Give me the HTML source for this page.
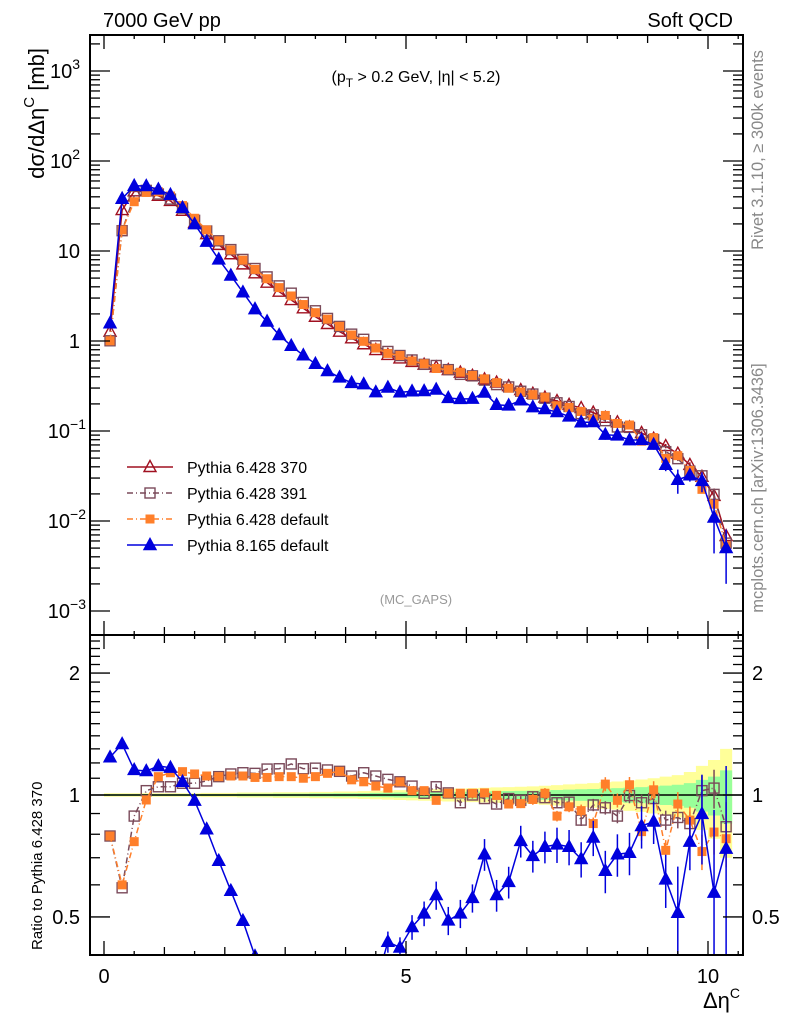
<!DOCTYPE html>
<html><head><meta charset="utf-8"><style>
body{margin:0;background:#fff;}
svg{font-family:"Liberation Sans",sans-serif;}
</style></head><body>
<svg id="c" width="786" height="1024" viewBox="0 0 786 1024">
<text x="103" y="27" font-size="20">7000 GeV pp</text>
<text x="733" y="27" font-size="20" text-anchor="end">Soft QCD</text>
<text x="416" y="82" font-size="16" text-anchor="middle">(p<tspan font-size="12" dy="5">T</tspan><tspan dy="-5"> &gt; 0.2 GeV, |η| &lt; 5.2)</tspan></text>
<text x="416" y="604" font-size="13" fill="#999" text-anchor="middle">(MC_GAPS)</text>
<text transform="translate(763,150) rotate(-90)" font-size="16.5" fill="#888" text-anchor="middle">Rivet 3.1.10, ≥ 300k events</text>
<text transform="translate(763,488) rotate(-90)" font-size="16.5" fill="#888" text-anchor="middle">mcplots.cern.ch [arXiv:1306.3436]</text>
<text transform="translate(44,48) rotate(-90)" font-size="22" text-anchor="end">dσ/dΔη<tspan font-size="15" dy="-10">C</tspan><tspan dy="10"> [mb]</tspan></text>
<text transform="translate(42,950) rotate(-90)" font-size="15">Ratio to Pythia 6.428 370</text>
<text x="740" y="1008" font-size="22" text-anchor="end">Δη<tspan font-size="14" dy="-10">C</tspan></text>
<g id="g"></g>
</svg>
<script>
const xs=[];for(let i=0;i<52;i++)xs.push(+(0.1+0.2*i).toFixed(1));
const ref370=[1.27,28.5,46,46,41,36,28,20.5,15.4,11.7,9.2,7.1,5.65,4.45,3.53,2.85,2.31,1.86,1.545,1.27,1.07,0.92,0.794,0.70,0.64,0.585,0.545,0.51,0.475,0.445,0.41,0.375,0.345,0.315,0.285,0.26,0.235,0.215,0.195,0.18,0.16,0.14,0.125,0.11,0.095,0.082,0.068,0.056,0.042,0.031,0.019,0.0068];
const refErr=[0.005,0.005,0.005,0.005,0.005,0.005,0.005,0.005,0.006,0.006,0.006,0.007,0.007,0.007,0.008,0.008,0.008,0.009,0.009,0.01,0.01,0.011,0.012,0.013,0.014,0.015,0.016,0.017,0.018,0.019,0.02,0.021,0.022,0.023,0.024,0.025,0.027,0.029,0.031,0.033,0.035,0.038,0.04,0.043,0.046,0.05,0.055,0.06,0.07,0.09,0.11,0.15];
const r391=[0.792,0.59,0.887,1.025,1.048,1.048,1.069,1.069,1.083,1.11,1.127,1.135,1.131,1.159,1.161,1.193,1.161,1.165,1.153,1.144,1.114,1.135,1.114,1.093,1.078,1.052,1.01,1.048,1.012,0.957,1.0,0.98,0.95,0.98,0.97,0.99,0.985,0.957,0.96,0.867,0.945,0.93,0.887,0.997,0.957,0.98,0.867,0.88,0.85,1.025,1.04,0.835];
const rDef=[0.792,0.60,0.767,0.972,1.11,1.135,1.142,1.127,1.114,1.11,1.114,1.114,1.105,1.105,1.11,1.11,1.1,1.11,1.131,1.144,1.09,1.078,1.052,1.04,1.078,1.025,1.025,0.97,1.01,1.01,1.01,1.012,0.998,0.95,0.952,0.975,1.01,0.887,0.935,0.915,0.85,1.064,0.97,1.06,0.812,1.03,0.73,0.95,0.867,0.725,0.81,0.78];
const rDefErr=[0.01,0.01,0.01,0.01,0.01,0.01,0.01,0.01,0.01,0.01,0.01,0.01,0.01,0.01,0.01,0.01,0.01,0.01,0.01,0.01,0.01,0.01,0.015,0.015,0.015,0.02,0.02,0.02,0.02,0.02,0.02,0.025,0.025,0.025,0.025,0.03,0.03,0.03,0.03,0.035,0.035,0.04,0.04,0.045,0.05,0.05,0.06,0.07,0.08,0.1,0.12,0.15];
const r8=[1.239,1.336,1.153,1.146,1.179,1.168,1.078,0.968,0.823,0.688,0.58,0.489,0.40,0.37,0.33,0.31,0.30,0.30,0.30,0.31,0.32,0.36,0.34,0.434,0.42,0.472,0.51,0.566,0.49,0.51,0.557,0.714,0.566,0.61,0.77,0.707,0.745,0.755,0.745,0.695,0.785,0.65,0.714,0.72,0.838,0.86,0.619,0.512,0.767,0.898,0.574,0.737];
const r8Err=[0.01,0.01,0.01,0.01,0.01,0.01,0.01,0.01,0.01,0.01,0.01,0.01,0.02,0.02,0.02,0.02,0.02,0.03,0.03,0.03,0.03,0.04,0.04,0.06,0.06,0.07,0.07,0.08,0.08,0.08,0.08,0.09,0.09,0.09,0.09,0.09,0.09,0.1,0.1,0.1,0.1,0.12,0.12,0.12,0.12,0.12,0.15,0.3,0.15,0.25,0.6,0.6];

const L=90,R=743,T=35,M=635,B=955;
const X=v=>104+60.4*v;
const Y=v=>341-90*Math.log10(v);
const YR=v=>795-405*Math.log10(v);
const NS="http://www.w3.org/2000/svg";
const g=document.getElementById('g');
function el(t,a,p){const e=document.createElementNS(NS,t);for(const k in a)e.setAttribute(k,a[k]);(p||g).appendChild(e);return e;}
const defs=el('defs',{});
const c1=el('clipPath',{id:'cm'},defs);el('rect',{x:L,y:T,width:R-L,height:M-T},c1);
const c2=el('clipPath',{id:'cr'},defs);el('rect',{x:L,y:M,width:R-L,height:B-M},c2);
const gm=el('g',{'clip-path':'url(#cm)'});
const gr=el('g',{'clip-path':'url(#cr)'});

const up=[],dn=[],gu=[],gd=[];
xs.forEach((x,i)=>{const x0=X(x-0.1),x1=X(x+0.1);
up.push(x0+','+YR(1+2*refErr[i]),x1+','+YR(1+2*refErr[i]));dn.unshift(x1+','+YR(1-2*refErr[i]),x0+','+YR(1-2*refErr[i]));
gu.push(x0+','+YR(1+refErr[i]),x1+','+YR(1+refErr[i]));gd.unshift(x1+','+YR(1-refErr[i]),x0+','+YR(1-refErr[i]));});
const yb=el('polygon',{points:up.concat(dn).join(' '),fill:'#ffff99'},gr);


const gb=el('polygon',{points:gu.concat(gd).join(' '),fill:'#99ff99'},gr);


const one=el('line',{x1:L,x2:R,y1:YR(1),y2:YR(1),stroke:'#000','stroke-width':1.5},gr);



const series=[
 {name:'pythia6-370',color:'#a01020',dash:'',mk:'tri-open',r:xs.map(()=>1),err:refErr,ratio:false},
 {name:'pythia6-391',color:'#7a4a5a',dash:'6,3,1,3',mk:'sq-open',r:r391,err:refErr,ratio:true},
 {name:'pythia6-default',color:'#ff7f2a',dash:'6,3,1,3',mk:'sq-fill',r:rDef,err:rDefErr,ratio:true},
 {name:'pythia8-default',color:'#0000dd',dash:'',mk:'tri-fill',r:r8,err:r8Err,ratio:true}];
function marker(p,x,y,s){
 let e;
 if(s.mk.startsWith('tri'))e=el('polygon',{points:`${x},${y-6.5} ${x-6},${y+4.5} ${x+6},${y+4.5}`,fill:s.mk.endsWith('fill')?s.color:'none',stroke:s.color,'stroke-width':1.4},p);
 else if(s.mk=='sq-open')e=el('rect',{x:x-5,y:y-5,width:10,height:10,fill:'none',stroke:s.color,'stroke-width':1.4},p);
 else e=el('rect',{x:x-4.5,y:y-4.5,width:9,height:9,fill:s.color},p);
 return e;}
series.forEach(s=>{
 const panels=[[gm,Y,true]];if(s.ratio)panels.push([gr,YR,false]);
 panels.forEach(([p,fy,main])=>{
  const gs=el('g',{},p);
  
  
  const vals=xs.map((x,i)=>main?ref370[i]*s.r[i]:s.r[i]);
  el('polyline',{points:xs.map((x,i)=>X(x)+','+fy(vals[i])).join(' '),fill:'none',stroke:s.color,'stroke-width':1.5,'stroke-dasharray':s.dash},gs);
  xs.forEach((x,i)=>{const v=vals[i],e=s.err[i];
   if(e>0.015){el('line',{x1:X(x),x2:X(x),y1:fy(v*(1+e)),y2:fy(Math.max(v*(1-e),1e-6)),stroke:s.color,'stroke-width':1.5},gs);}
   const m=marker(gs,X(x),fy(v),s);
   
   });
 });
});

const f1=el('rect',{x:L,y:T,width:R-L,height:M-T,fill:'none',stroke:'#000','stroke-width':2});

const f2=el('rect',{x:L,y:M,width:R-L,height:B-M,fill:'none',stroke:'#000','stroke-width':2});


for(let v=0;v<=10.6;v+=0.5){const big=Math.abs(v%5)<1e-6||Math.abs(v%5-5)<1e-6;const mid=Math.abs(v%1)<1e-6;const len=big?14:(mid?8:4);
 [T,M].forEach(y0=>el('line',{x1:X(v),x2:X(v),y1:y0,y2:y0+len,stroke:'#000','stroke-width':1.3}));
 [M,B].forEach(y0=>el('line',{x1:X(v),x2:X(v),y1:y0,y2:y0-len,stroke:'#000','stroke-width':1.3}));}
const xticks=['0','5','10'],xtv=[0,5,10];
xtv.forEach((v,i)=>{const t=el('text',{x:X(v),y:983,'font-size':20,'text-anchor':'middle'});t.textContent=xticks[i];
 });
for(let d=-3;d<=3;d++){for(let k=1;k<10;k++){const v=k*Math.pow(10,d),y=Y(v);if(y<T||y>M)continue;const len=k==1?20:10;
 el('line',{x1:L,x2:L+len,y1:y,y2:y,stroke:'#000','stroke-width':1.3});el('line',{x1:R,x2:R-len,y1:y,y2:y,stroke:'#000','stroke-width':1.3});}}
const ylab=['10^-3','10^-2','10^-1','1','10','10^2','10^3'],yv=[0.001,0.01,0.1,1,10,100,1000];
yv.forEach((v,i)=>{const s=ylab[i];const t=el('text',{x:80,y:Y(v)+7,'font-size':20,'text-anchor':'end'});
 
 if(s.includes('^')){const [b,e]=s.split('^');t.textContent=b;const sp=el('tspan',{dy:-9,'font-size':14},t);sp.textContent=e.replace('-','−');}else t.textContent=s;
 if(s.includes('^'))t.setAttribute('x',s.includes('-')?86:80);});
const rticks=[0.4,0.5,0.6,0.7,0.8,0.9,1,1.1,1.2,1.3,1.4,1.5,1.6,1.7,1.8,1.9,2,2.1,2.2,2.3,2.4];
rticks.forEach(v=>{const y=YR(v);if(y<M||y>B)return;const big=[0.5,1,2].includes(v);const len=big?20:10;
 el('line',{x1:L,x2:L+len,y1:y,y2:y,stroke:'#000','stroke-width':1.3});el('line',{x1:R,x2:R-len,y1:y,y2:y,stroke:'#000','stroke-width':1.3});});
const rlab=['0.5','1','2'],rlv=[0.5,1,2];
rlv.forEach((v,i)=>{[[80,'end'],[752,'start']].forEach(([x,a])=>{const t=el('text',{x:x,y:YR(v)+7,'font-size':20,'text-anchor':a});t.textContent=rlab[i];
 });});

const lnames=['Pythia 6.428 370','Pythia 6.428 391','Pythia 6.428 default','Pythia 8.165 default'];
series.forEach((s,i)=>{const y=467+26*i;const lg=el('g',{});
 
 
 el('line',{x1:127,x2:173,y1:y,y2:y,stroke:s.color,'stroke-width':1.5,'stroke-dasharray':s.dash},lg);
 marker(lg,150,y,s);
 const t=el('text',{x:187,y:y+6,'font-size':16},lg);t.textContent=lnames[i];});
</script>
</body></html>
